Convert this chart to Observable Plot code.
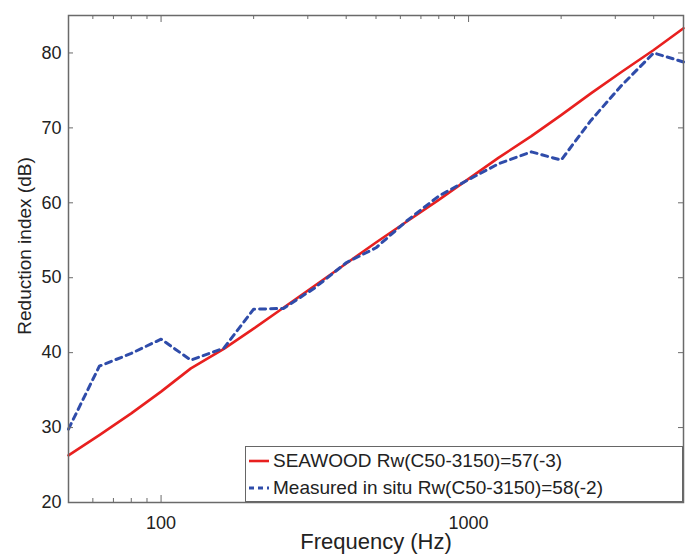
<!DOCTYPE html>
<html><head><meta charset="utf-8">
<script src="https://cdn.jsdelivr.net/npm/d3@7"></script>
<script src="https://cdn.jsdelivr.net/npm/@observablehq/plot@0.6"></script>
<style>
body{margin:0;background:#fff}
#chart{position:relative;width:686px;height:558px;font-family:"Liberation Sans",Arial,sans-serif;color:#222}
#legend{position:absolute;left:245px;top:446px;width:436px;height:54px;border:1.5px solid #666;background:#fff;font-size:19px}
.row{position:absolute;left:0;height:24px;display:flex;align-items:center;white-space:nowrap}
.row svg{margin-left:2px;margin-right:3px}
</style>
</head><body><div id="chart"></div>
<script>
const freqs = [50,63,80,100,125,160,200,250,315,400,500,630,800,1000,1250,1600,2000,2500,3150,4000,5000];
const seawood = [26.3,29.0,31.9,34.8,37.9,40.5,43.2,46.0,48.9,51.9,54.7,57.5,60.4,63.2,66.0,68.9,71.7,74.6,77.5,80.4,83.3];
const measured = [29.8,38.2,39.9,41.8,39.0,40.6,45.8,45.9,48.6,52.0,54.0,57.6,60.9,63.1,65.2,66.8,65.7,71.0,75.7,80.0,78.8];
const seriesNames = ["SEAWOOD Rw(C50-3150)=57(-3)", "Measured in situ Rw(C50-3150)=58(-2)"];
const yTicks = [20,30,40,50,60,70,80];
const xMajorTicks = [100,1000];
const xMinorTicks = [50,60,70,80,90,200,300,400,500,600,700,800,900,2000,3000,4000,5000];
const xLabel = "Frequency (Hz)";
const yLabel = "Reduction index (dB)";

const colors = ["#e8201f", "#2f4caa"];
const W = 686, H = 558, mL = 68, mT = 15, mR = 3, mB = 56;
const iW = W - mL - mR, iH = H - mT - mB;
const axisColor = "#6a6a6a";

const redRows = freqs.map((f, i) => ({f, v: seawood[i]}));
const blueRows = freqs.map((f, i) => ({f, v: measured[i]}));

const chart = Plot.plot({
  width: W, height: H,
  marginLeft: mL, marginTop: mT, marginRight: mR, marginBottom: mB,
  style: {fontFamily: '"Liberation Sans", Arial, sans-serif', fontSize: "18px", color: "#222", background: "#fff"},
  x: {type: "log", domain: [50, 5000]},
  y: {domain: [20, 85]},
  marks: [
    Plot.line(redRows, {x: "f", y: "v", stroke: colors[0], strokeWidth: 2.6}),
    Plot.line(blueRows, {x: "f", y: "v", stroke: colors[1], strokeWidth: 3, strokeDasharray: "6,5"}),
    Plot.tickY(yTicks, {y: d => d, insetRight: iW - 5, stroke: axisColor}),
    Plot.tickY(yTicks, {y: d => d, insetLeft: iW - 5, stroke: axisColor}),
    Plot.tickX(xMajorTicks, {x: d => d, insetTop: iH - 7, stroke: axisColor}),
    Plot.tickX(xMajorTicks, {x: d => d, insetBottom: iH - 7, stroke: axisColor}),
    Plot.tickX(xMinorTicks, {x: d => d, insetTop: iH - 4, stroke: axisColor}),
    Plot.tickX(xMinorTicks, {x: d => d, insetBottom: iH - 4, stroke: axisColor}),
    Plot.axisY({ticks: yTicks, tickSize: 0, tickPadding: 7, label: null, fontSize: 18}),
    Plot.axisX({ticks: xMajorTicks, tickFormat: d => String(d), tickSize: 0, tickPadding: 14, label: null, fontSize: 18}),
    Plot.text([xLabel], {text: d => d, frameAnchor: "bottom", dy: 46, fontSize: 22, fill: "#222"}),
    Plot.text([yLabel], {text: d => d, frameAnchor: "left", textAnchor: "middle", rotate: -90, dx: -44, dy: -13, fontSize: 19, fill: "#222"}),
    Plot.frame({stroke: axisColor, strokeWidth: 1.5})
  ]
});
const root = document.getElementById("chart");
root.appendChild(chart);

const legend = document.createElement("div");
legend.id = "legend";
seriesNames.forEach((name, i) => {
  const row = document.createElement("div");
  row.className = "row";
  row.style.top = (i === 0 ? 2 : 29) + "px";
  const dash = i === 0 ? "" : ' stroke-dasharray="5,4"';
  row.innerHTML = `<svg width="22" height="10"><line x1="1" y1="5" x2="21" y2="5" stroke="${colors[i]}" stroke-width="${i === 0 ? 2.6 : 3}"${dash}/></svg><span>${name}</span>`;
  legend.appendChild(row);
});
root.appendChild(legend);
</script>
</body></html>
